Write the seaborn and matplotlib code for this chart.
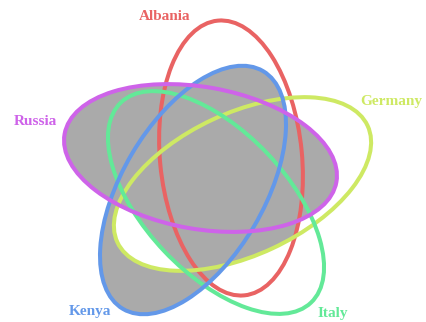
import numpy as np
import seaborn as sns
import matplotlib
matplotlib.use("Agg")
import matplotlib.pyplot as plt
from matplotlib.patches import Ellipse

# Sets, in the order the colour palette is assigned (alphabetical).
countries = ["Albania", "Germany", "Italy", "Kenya", "Russia"]

# Which regions are shaded: every region of Russia, Kenya outside Germany,
# and any region shared by at least three sets.
shade_sets = ["Russia"]
shade_minus = ("Kenya", "Germany")
shade_min_count = 3

# Layout (pixel space, y up): centre x, centre y, rotation in degrees.
W, H = 426, 322
layout = {
    "Albania": (231.0, 164.0, 95.5),
    "Germany": (242.5, 138.0, 25.0),
    "Italy": (216.0, 119.5, -46.5),
    "Kenya": (193.0, 132.0, 59.5),
    "Russia": (200.5, 164.0, -10.0),
}
AXIS_MAJOR, AXIS_MINOR = 276.0, 142.0
label_pos = {
    "Albania": (165, 306),
    "Germany": (391, 221),
    "Italy": (333, 9),
    "Kenya": (90, 11),
    "Russia": (35, 201),
}

sns.set_style("white")
colors = dict(zip(countries, sns.hls_palette(5, h=0.0, l=0.65, s=0.75)))

fig = plt.figure(figsize=(W / 100, H / 100), dpi=100)
ax = fig.add_axes([0, 0, 1, 1])
ax.set_xlim(0, W)
ax.set_ylim(0, H)
ax.set_aspect("equal")
ax.axis("off")


def inside(name, xx, yy):
    cx, cy, ang = layout[name]
    t = np.deg2rad(ang)
    dx, dy = xx - cx, yy - cy
    u = dx * np.cos(t) + dy * np.sin(t)
    v = -dx * np.sin(t) + dy * np.cos(t)
    return (u / (AXIS_MAJOR / 2)) ** 2 + (v / (AXIS_MINOR / 2)) ** 2 <= 1


# Shaded region mask on a fine grid.
step = 0.25
xs = np.arange(0, W, step) + step / 2
ys = np.arange(0, H, step) + step / 2
xx, yy = np.meshgrid(xs, ys)
member = {c: inside(c, xx, yy) for c in countries}
count = sum(m.astype(int) for m in member.values())
mask = np.zeros_like(xx, dtype=bool)
for s in shade_sets:
    mask |= member[s]
mask |= member[shade_minus[0]] & ~member[shade_minus[1]]
mask |= count >= shade_min_count

img = np.zeros(mask.shape + (4,))
img[mask] = matplotlib.colors.to_rgba("#aaaaaa")
ax.imshow(img, extent=(0, W, 0, H), origin="lower", interpolation="antialiased", zorder=1)

# Outlines
for c in countries:
    cx, cy, ang = layout[c]
    ax.add_patch(Ellipse((cx, cy), AXIS_MAJOR, AXIS_MINOR, angle=ang, fill=False,
                         edgecolor=colors[c], linewidth=2.9, zorder=3))

# Labels
for c in countries:
    x, y = label_pos[c]
    ax.text(x, y, c, color=colors[c], fontsize=11, fontweight="bold",
            family=["Liberation Serif", "DejaVu Serif"], ha="center", va="center", zorder=4)

fig.savefig("out.png", dpi=100)
